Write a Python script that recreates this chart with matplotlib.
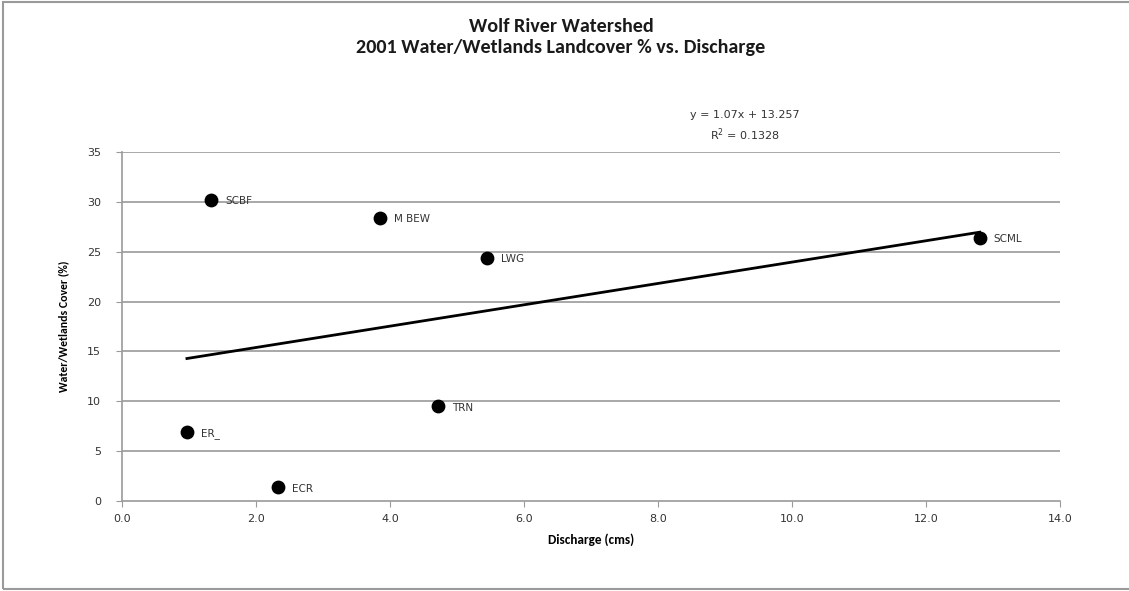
import matplotlib
matplotlib.use("Agg")
import matplotlib.pyplot as plt
from matplotlib.patches import Rectangle

# sites, discharge (cms) and water/wetlands cover (%)
sites = ["SCBF", "M BEW", "LWG", "SCML", "TRN", "ER_", "ECR"]
discharge = [1.33, 3.85, 5.45, 12.8, 4.72, 0.97, 2.33]
cover = [30.2, 28.4, 24.4, 26.4, 9.5, 6.9, 1.4]

# linear trendline from the chart
slope = 1.07
intercept = 13.257
r2 = 0.1328

xticks = [0, 2, 4, 6, 8, 10, 12, 14]
yticks = [0, 5, 10, 15, 20, 25, 30, 35]

narrow = ["Carlito", "Liberation Sans Narrow", "DejaVu Sans"]

fig = plt.figure(figsize=(11.29, 5.91), dpi=100)
ax = fig.add_axes([0.108, 0.152, 0.831, 0.591])

grey = "#9a9a9a"
for t in yticks[1:]:
    ax.axhline(t, color=grey, lw=1.2, zorder=0)

ax.scatter(discharge, cover, s=80, color="black", zorder=3)
for name, x, y in zip(sites, discharge, cover):
    ax.annotate(name, (x, y), xytext=(10, -1), textcoords="offset points",
                fontsize=7.5, va="center", ha="left", color="#333333")

xs = [min(discharge), max(discharge)]
ax.plot(xs, [slope * v + intercept for v in xs], color="black", lw=2, zorder=2)

ax.set_xlim(0, 14)
ax.set_ylim(0, 35)
ax.set_xticks(xticks)
ax.set_xticklabels(["%.1f" % v for v in xticks])
ax.set_yticks(yticks)
ax.tick_params(axis="both", labelsize=8, colors="#333333", length=4, color=grey)
ax.tick_params(axis="x", pad=5)
ax.tick_params(axis="y", pad=11)
for s in ["top", "right"]:
    ax.spines[s].set_visible(False)
for s in ["left", "bottom"]:
    ax.spines[s].set_color(grey)
    ax.spines[s].set_linewidth(1.2)

ax.set_xlabel("Discharge (cms)", fontsize=9.5, fontweight="bold",
              family=narrow, labelpad=7)
ax.set_ylabel("Water/Wetlands Cover (%)", fontsize=8.5, fontweight="bold",
              family=narrow, labelpad=13)

fig.text(0.497, 0.955, "Wolf River Watershed", ha="center", va="center",
         fontsize=14.5, fontweight="bold", family=narrow, color="#1a1a1a")
fig.text(0.497, 0.920, "2001 Water/Wetlands Landcover % vs. Discharge",
         ha="center", va="center", fontsize=14.5, fontweight="bold",
         family=narrow, color="#1a1a1a")

fig.text(0.66, 0.805, "y = %.2fx + %.3f" % (slope, intercept), ha="center",
         va="center", fontsize=8, color="#333333")
fig.text(0.66, 0.772, "R$^2$ = %.4f" % r2, ha="center", va="center",
         fontsize=8, color="#333333")

# chart area border
fig.patches.append(Rectangle((0.003, 0.003), 1.2, 0.993, transform=fig.transFigure,
                             fill=False, edgecolor=grey, lw=1.5))

fig.savefig("out.png", dpi=100)
